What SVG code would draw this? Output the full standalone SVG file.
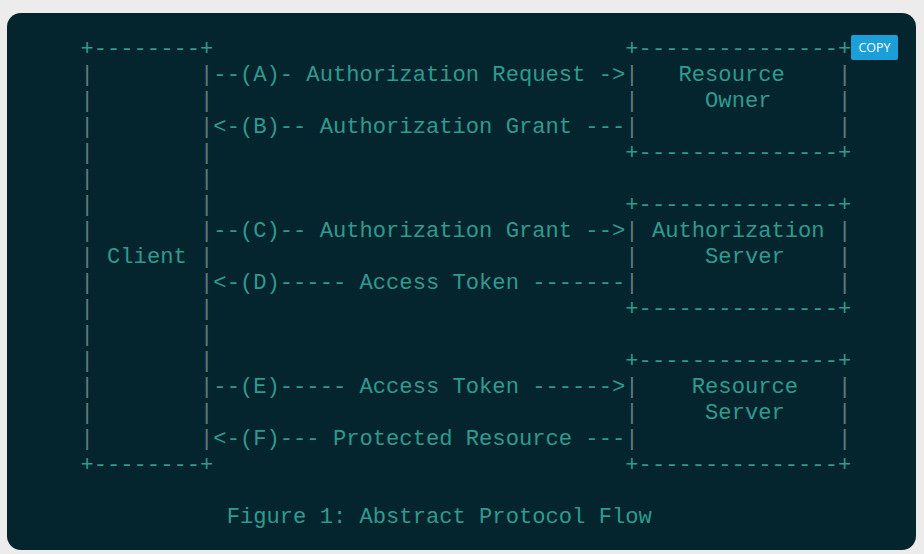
<svg xmlns="http://www.w3.org/2000/svg" width="924" height="554" viewBox="0 0 924 554">
<style>
.t{font-family:"Liberation Mono","DejaVu Sans Mono",monospace;font-size:22.15px;fill:#2f9a8f;white-space:pre}
.p{font-family:"Liberation Mono","DejaVu Sans Mono",monospace;font-size:22.15px;fill:#5f7b7f}
.btn{font-family:"Open Sans","Liberation Sans",sans-serif;font-size:12.5px;fill:#ffffff}
</style>
<rect x="0" y="0" width="924" height="554" fill="#ececec"/>
<rect x="7" y="13" width="909" height="537" rx="14" fill="#04252d"/>

<g id="client">
<text class="t" x="80.45" y="55">+--------+</text>
<text class="t" x="80.45" y="471">+--------+</text>
<text class="p"><tspan x="80.45" y="81">|</tspan><tspan x="80.45" y="107">|</tspan><tspan x="80.45" y="133">|</tspan><tspan x="80.45" y="159">|</tspan><tspan x="80.45" y="185">|</tspan><tspan x="80.45" y="211">|</tspan><tspan x="80.45" y="237">|</tspan><tspan x="80.45" y="263">|</tspan><tspan x="80.45" y="289">|</tspan><tspan x="80.45" y="315">|</tspan><tspan x="80.45" y="341">|</tspan><tspan x="80.45" y="367">|</tspan><tspan x="80.45" y="393">|</tspan><tspan x="80.45" y="419">|</tspan><tspan x="80.45" y="445">|</tspan></text>
<text class="p"><tspan x="200.06" y="81">|</tspan><tspan x="200.06" y="107">|</tspan><tspan x="200.06" y="133">|</tspan><tspan x="200.06" y="159">|</tspan><tspan x="200.06" y="185">|</tspan><tspan x="200.06" y="211">|</tspan><tspan x="200.06" y="237">|</tspan><tspan x="200.06" y="263">|</tspan><tspan x="200.06" y="289">|</tspan><tspan x="200.06" y="315">|</tspan><tspan x="200.06" y="341">|</tspan><tspan x="200.06" y="367">|</tspan><tspan x="200.06" y="393">|</tspan><tspan x="200.06" y="419">|</tspan><tspan x="200.06" y="445">|</tspan></text>
<text class="t" x="107.03" y="263">Client</text>
</g>

<g id="resource-owner">
<text class="t" x="625.34" y="55">+---------------+</text>
<text class="t" x="625.34" y="159">+---------------+</text>
<text class="p"><tspan x="625.34" y="81">|</tspan><tspan x="625.34" y="107">|</tspan><tspan x="625.34" y="133">|</tspan><tspan x="837.98" y="81">|</tspan><tspan x="837.98" y="107">|</tspan><tspan x="837.98" y="133">|</tspan></text>
<text class="t" x="678.5" y="81">Resource</text>
<text class="t" x="705.08" y="107">Owner</text>
</g>

<g id="authorization-server">
<text class="t" x="625.34" y="211">+---------------+</text>
<text class="t" x="625.34" y="315">+---------------+</text>
<text class="p"><tspan x="625.34" y="237">|</tspan><tspan x="625.34" y="263">|</tspan><tspan x="625.34" y="289">|</tspan><tspan x="837.98" y="237">|</tspan><tspan x="837.98" y="263">|</tspan><tspan x="837.98" y="289">|</tspan></text>
<text class="t" x="651.92" y="237">Authorization</text>
<text class="t" x="705.08" y="263">Server</text>
</g>

<g id="resource-server">
<text class="t" x="625.34" y="367">+---------------+</text>
<text class="t" x="625.34" y="471">+---------------+</text>
<text class="p"><tspan x="625.34" y="393">|</tspan><tspan x="625.34" y="419">|</tspan><tspan x="625.34" y="445">|</tspan><tspan x="837.98" y="393">|</tspan><tspan x="837.98" y="419">|</tspan><tspan x="837.98" y="445">|</tspan></text>
<text class="t" x="691.79" y="393">Resource</text>
<text class="t" x="705.08" y="419">Server</text>
</g>

<g id="connectors">
<text class="t" x="213.35" y="81">--(A)- Authorization Request -&gt;</text>
<text class="t" x="213.35" y="133">&lt;-(B)-- Authorization Grant ---</text>
<text class="t" x="213.35" y="237">--(C)-- Authorization Grant --&gt;</text>
<text class="t" x="213.35" y="289">&lt;-(D)----- Access Token -------</text>
<text class="t" x="213.35" y="393">--(E)----- Access Token ------&gt;</text>
<text class="t" x="213.35" y="445">&lt;-(F)--- Protected Resource ---</text>
</g>

<g id="caption">
<text class="t" x="226.64" y="523">Figure 1: Abstract Protocol Flow</text>
</g>

<g id="copy-button">
<rect x="851" y="35" width="47" height="25" rx="2" fill="#1b9fd9"/>
<text class="btn" x="874.5" y="52" text-anchor="middle">COPY</text>
</g>
</svg>
